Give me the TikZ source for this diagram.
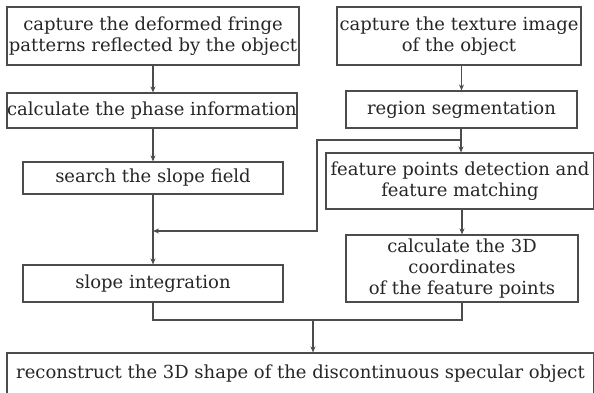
\documentclass[tikz,border=0pt]{standalone}
\usepackage{fontspec}
\setmainfont{DejaVu Serif}
\usetikzlibrary{arrows.meta}
\tikzset{>={Stealth[length=6pt,width=5pt]}}
\colorlet{penColor}{black!70}
\colorlet{textColor}{black!85}
\tikzset{
  procbox/.style={draw=penColor, line width=1.1pt, align=center, inner sep=0pt,
    text=textColor, font=\fontsize{18}{21}\selectfont},
  flow/.style={draw=penColor, line width=1.1pt}
}

\begin{document}
\begin{tikzpicture}[x=1pt,y=-1pt]
				\useasboundingbox (0,0) rectangle (594,393);
				% left column
				\node[procbox, minimum width=292pt, minimum height=58pt] (capFringe) at (153,36) {capture the deformed fringe\\patterns reflected by the object};
				\node[procbox, minimum width=290pt, minimum height=35pt] (calcPhase) at (152,110.5) {calculate the phase information};
				\node[procbox, minimum width=260pt, minimum height=32pt] (searchSlope) at (153,178) {search the slope field};
				\node[procbox, minimum width=260pt, minimum height=37pt] (slopeInt) at (153,283.5) {slope integration};
				% right column
				\node[procbox, minimum width=244pt, minimum height=58pt] (capTexture) at (459,36) {capture the texture image\\of the object};
				\node[procbox, minimum width=231pt, minimum height=37pt] (regionSeg) at (461.5,109.5) {region segmentation};
				\node[procbox, minimum width=268pt, minimum height=56pt] (featPts) at (460,181) {feature points detection and\\feature matching};
				\node[procbox, minimum width=232pt, minimum height=67pt] (calc3D) at (462,268.5) {calculate the 3D\\coordinates\\of the feature points};
				% bottom
				\node[procbox, minimum width=587pt, minimum height=42pt] (reconShape) at (300.5,374) {reconstruct the 3D shape of the discontinuous specular object};
				
				\coordinate (fbStart) at (461,140);
				\coordinate (fbLeft) at (317,140);
				\coordinate (fbDown) at (317,231);
				\coordinate (fbJoin) at (153,231);
				\coordinate (mergeL) at (153,320);
				\coordinate (mergeR) at (462,320);
				\coordinate (mergeMid) at (313,320);
				
				\draw[->,flow] (capFringe.south) -- (capFringe.south |- calcPhase.north);
				\draw[->,flow] (calcPhase.south -| searchSlope.north) -- (searchSlope.north);
				\draw[->,flow] (searchSlope.south) -- (slopeInt.north);
				\draw[->,flow] (capTexture.south -| regionSeg.north) -- (regionSeg.north);
				\draw[->,flow] (regionSeg.south -| fbStart) -- (fbStart |- featPts.north);
				\draw[->,flow] (fbStart) -- (fbLeft) -- (fbDown) -- (fbJoin);
				\draw[->,flow] (featPts.south -| calc3D.north) -- (calc3D.north);
				\draw[flow] (slopeInt.south) -- (mergeL) -- (mergeR) -- (calc3D.south);
				\draw[->,flow] (mergeMid) -- (mergeMid |- reconShape.north);
\end{tikzpicture}
\end{document}
